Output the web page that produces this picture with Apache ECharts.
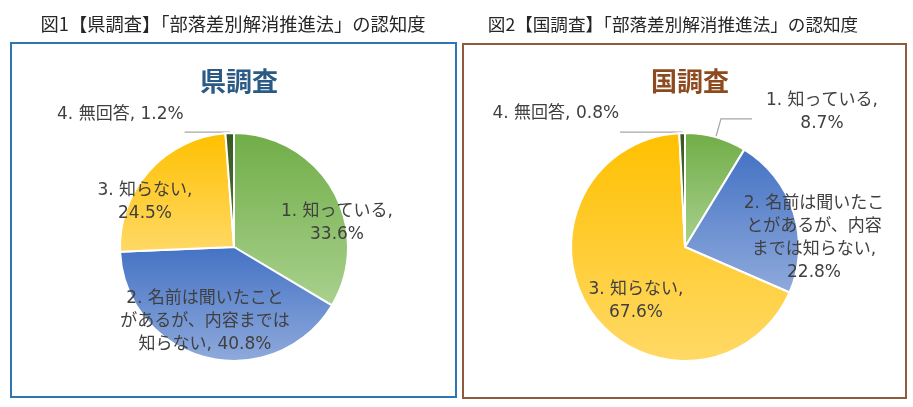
<!DOCTYPE html>
<html>
<head>
<meta charset="utf-8">
<script src="https://cdn.jsdelivr.net/npm/echarts@6/dist/echarts.min.js"></script>
<style>
  html, body { margin: 0; padding: 0; background: #fff; }
  #main { width: 913px; height: 407px; }
</style>
</head>
<body>
<div id="main"></div>
<script>
// 区分名（両調査共通）
var categories = ['1. 知っている', '2. 名前は聞いたことがあるが、内容までは知らない', '3. 知らない', '4. 無回答'];
// 県調査 (%)
var prefValues = [33.6, 40.8, 24.5, 1.2];
// 国調査 (%)
var natValues = [8.7, 22.8, 67.6, 0.8];

// ラベルの改行位置（表示用テキスト）
var prefLabels = ['1. 知っている,\n33.6%', '2. 名前は聞いたこと\nがあるが、内容までは\n知らない, 40.8%', '3. 知らない,\n24.5%', '4. 無回答, 1.2%'];
var natLabels = ['1. 知っている,\n8.7%', '2. 名前は聞いたこ\nとがあるが、内容\nまでは知らない,\n22.8%', '3. 知らない,\n67.6%', '4. 無回答, 0.8%'];

var FONT = "'Noto Sans CJK JP', sans-serif";
var LABEL_FONT = "'DejaVu Sans', 'Noto Sans CJK JP', sans-serif";
var sliceColors = [
    ['#70AD47', '#A9D18E'],
    ['#4472C4', '#8FAADC'],
    ['#FFC000', '#FFD966'],
    ['#385723', '#4E7A32']
];

// 内側ラベルの位置（円の中心からのずれ, px）。null は外側ラベル
var prefInside = [[103, -24], [-29, 75], [-89, -45], null];
var natInside = [null, [129, -9], [-49, 54], null];
// 外側ラベルの引出線
var prefOutside = [null, null, null, { length: 1, length2: 45, dist: 1, pad: 36 }];
var natOutside = [{ length: 19, length2: 31, dist: 14, pad: 14 }, null, null, { length: 1, length2: 62, dist: 1, pad: 36 }];

var centers = [[234, 247], [685, 247]];
var R = 114;

function grad(c) {
    return { type: 'linear', x: 0, y: 0, x2: 0, y2: 1, colorStops: [{ offset: 0, color: c[0] }, { offset: 1, color: c[1] }] };
}

function buildData(values, texts, inside, outside) {
    return values.map(function (v, i) {
        var item = {
            name: categories[i],
            value: v,
            itemStyle: { color: grad(sliceColors[i]) }
        };
        if (outside[i]) {
            var o = outside[i];
            item.label = {
                position: 'outside',
                formatter: texts[i].split('\n').map(function (t) { return '{c|' + t + '}'; }).join('\n'),
                distanceToLabelLine: o.dist,
                padding: [0, 0, o.pad, 0]
            };
            item.labelLine = { show: true, length: o.length, length2: o.length2 };
        } else {
            item.label = { position: 'inside', formatter: texts[i] };
            item.labelLine = { show: false };
        }
        return item;
    });
}

function pieSeries(idx, values, texts, inside, outside) {
    var c = centers[idx];
    return {
        type: 'pie',
        center: c,
        radius: R,
        startAngle: 90,
        clockwise: true,
        avoidLabelOverlap: false,
        animation: false,
        itemStyle: { borderColor: '#fff', borderWidth: 2 },
        label: {
            color: '#404040',
            fontSize: 17,
            lineHeight: 23,
            fontFamily: LABEL_FONT,
            rich: { c: { align: 'center', color: '#404040', fontSize: 17, lineHeight: 23, fontFamily: LABEL_FONT } }
        },
        labelLine: { lineStyle: { color: '#A6A6A6', width: 1.2 }, smooth: false },
        labelLayout: function (p) {
            var off = inside[p.dataIndex];
            if (!off) return {};
            return { x: c[0] + off[0], y: c[1] + off[1], align: 'center', verticalAlign: 'middle' };
        },
        data: buildData(values, texts, inside, outside)
    };
}

var chart = echarts.init(document.getElementById('main'));
chart.setOption({
    backgroundColor: '#fff',
    title: [
        { text: '図1【県調査】「部落差別解消推進法」の認知度', left: 228, top: 19, textAlign: 'center', textVerticalAlign: 'middle',
          textStyle: { fontSize: 18.3, fontWeight: 'normal', color: '#262626', fontFamily: FONT } },
        { text: '図2【国調査】「部落差別解消推進法」の認知度', left: 668, top: 19, textAlign: 'center', textVerticalAlign: 'middle',
          textStyle: { fontSize: 17.6, fontWeight: 'normal', color: '#262626', fontFamily: FONT } },
        { text: '県調査', left: 234, top: 76, textAlign: 'center', textVerticalAlign: 'middle',
          textStyle: { fontSize: 26, fontWeight: 'bold', color: '#2B5A84', fontFamily: FONT } },
        { text: '国調査', left: 685, top: 76, textAlign: 'center', textVerticalAlign: 'middle',
          textStyle: { fontSize: 26, fontWeight: 'bold', color: '#8D4A1E', fontFamily: FONT } }
    ],
    graphic: [
        { type: 'rect', shape: { x: 11, y: 43, width: 445, height: 354 }, style: { fill: 'none', stroke: '#2E75B6', lineWidth: 2 } },
        { type: 'rect', shape: { x: 463, y: 44, width: 443, height: 354 }, style: { fill: 'none', stroke: '#8F5B3A', lineWidth: 2 } }
    ],
    series: [
        pieSeries(0, prefValues, prefLabels, prefInside, prefOutside),
        pieSeries(1, natValues, natLabels, natInside, natOutside)
    ]
});
</script>
</body>
</html>
